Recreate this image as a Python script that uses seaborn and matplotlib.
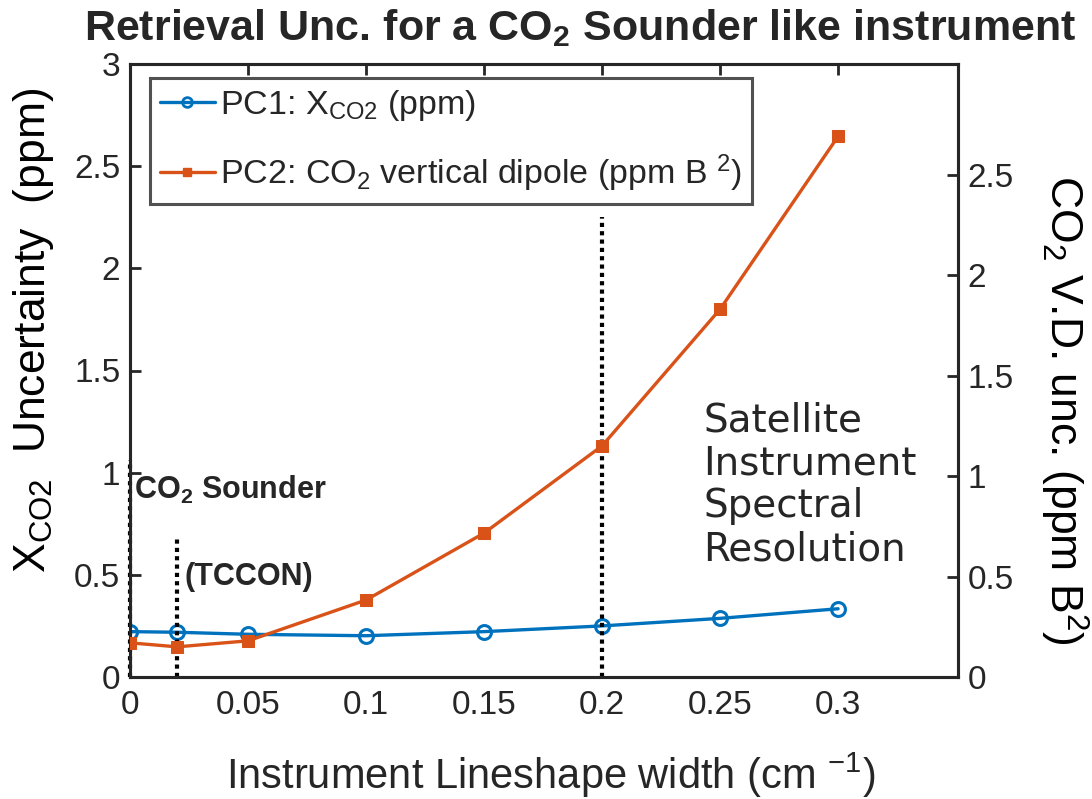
import numpy as np
import pandas as pd
import matplotlib
matplotlib.use("Agg")
import matplotlib.pyplot as plt
from matplotlib.ticker import FuncFormatter, FixedLocator
from matplotlib.lines import Line2D
import seaborn as sns

# ---- data ----
width = [0.0, 0.02, 0.05, 0.1, 0.15, 0.2, 0.25, 0.3]
pc1_xco2 = [0.222, 0.219, 0.209, 0.202, 0.222, 0.25, 0.287, 0.334]
pc2_dipole = [0.17, 0.15, 0.18, 0.383, 0.716, 1.15, 1.83, 2.69]
x_ticks = [0, 0.05, 0.1, 0.15, 0.2, 0.25, 0.3]
left_ticks = [0, 0.5, 1, 1.5, 2, 2.5, 3]
right_ticks = [0, 0.5, 1, 1.5, 2, 2.5]
marker_lines = [0.0, 0.02, 0.2]
marker_tops = [1.06, 0.685, 2.25]

df = pd.DataFrame({"w": width, "pc1": pc1_xco2, "pc2": pc2_dipole})

sns.set_theme(style="white")
plt.rcParams["font.family"] = ["Liberation Sans", "DejaVu Sans"]
plt.rcParams["mathtext.fontset"] = "custom"
plt.rcParams["mathtext.rm"] = "Liberation Sans"
plt.rcParams["mathtext.it"] = "Liberation Sans"
plt.rcParams["mathtext.bf"] = "Liberation Sans:bold"

BLUE = "#0072BD"
ORANGE = "#D95319"
AXC = "#262626"

fig = plt.figure(figsize=(10.92, 7.99), dpi=100)
ax = fig.add_axes([130/1092, 1-677/799, (958-130)/1092, (677-64)/799])
ax2 = ax.twinx()

sns.lineplot(data=df, x="w", y="pc1", ax=ax, color=BLUE, lw=2.4, marker="o",
             markersize=10, markerfacecolor="none", markeredgecolor=BLUE,
             markeredgewidth=2.2, legend=False, zorder=5)
sns.lineplot(data=df, x="w", y="pc2", ax=ax2, color=ORANGE, lw=2.4, marker="s",
             markersize=8, markerfacecolor=ORANGE, markeredgecolor=ORANGE,
             legend=False, zorder=5)

for xv, top in zip(marker_lines, marker_tops):
    ax.vlines(xv, 0, top, colors="black", linestyles=(0, (1, 1)), lw=3,
              zorder=6, clip_on=False)

ax.set_xlim(0, 0.3508)
ax.set_ylim(0, 3)
ax2.set_ylim(0, 3.05)

fmt = FuncFormatter(lambda v, p: ("%g" % v))
ax.xaxis.set_major_locator(FixedLocator(x_ticks))
ax.yaxis.set_major_locator(FixedLocator(left_ticks))
ax2.yaxis.set_major_locator(FixedLocator(right_ticks))
ax.xaxis.set_major_formatter(fmt)
ax.yaxis.set_major_formatter(fmt)
ax2.yaxis.set_major_formatter(fmt)

for a in (ax, ax2):
    for s in a.spines.values():
        s.set_color(AXC)
        s.set_linewidth(2.2)
    a.tick_params(direction="in", length=8, width=2, colors=AXC, labelsize=24,
                  labelcolor=AXC)
ax.tick_params(axis="x", top=True, pad=9)
ax.tick_params(axis="y", left=True, right=False, pad=7)
ax2.tick_params(axis="y", right=True, left=False, pad=7)
ax.set_xlabel("")
ax.set_ylabel("")
ax2.set_ylabel("")

# axis labels
fig.text(551/1092, 1-775/799, r"Instrument Lineshape width (cm $^{-1}$)",
         ha="center", va="center", fontsize=30, color=AXC)
ax.text(-0.117, 0.565, r"X$_{\mathregular{CO2}}$  Uncertainty  (ppm)",
        rotation=90, ha="center", va="center", transform=ax.transAxes,
        fontsize=32, color="black")
ax2.text(1.128, 0.435, r"CO$_2$ V.D. unc. (ppm B$^2$)", rotation=270,
         ha="center", va="center", transform=ax2.transAxes, fontsize=32,
         color="black")

# annotations
ax.text(0.0015, 0.915, r"CO$_\mathbf{2}$ Sounder", fontsize=22, fontweight="bold",
        ha="left", va="center", zorder=7)
ax.text(0.0232, 0.49, "(TCCON)", fontsize=22, fontweight="bold",
        ha="left", va="center", zorder=7)
ax.text(0.2428, 0.94, "Satellite\nInstrument\nSpectral\nResolution",
        family="DejaVu Sans", fontsize=28, ha="left", va="center",
        linespacing=1.17, zorder=7)

# title
fig.text(580/1092, 1-28/799,
         r"Retrieval Unc. for a CO$_\mathbf{2}$ Sounder like instrument",
         fontsize=31, fontweight="bold", ha="center", va="center")

# legend
handles = [
    Line2D([], [], color=BLUE, lw=2.4, marker="o", markersize=7,
           markerfacecolor="none", markeredgewidth=2),
    Line2D([], [], color=ORANGE, lw=2.4, marker="s", markersize=6,
           markerfacecolor=ORANGE),
]
labels = [r"PC1: X$_{\mathregular{CO2}}$ (ppm)",
          r"PC2: CO$_2$ vertical dipole (ppm B $^2$)"]
leg = ax2.legend(handles, labels, loc="upper left",
                 bbox_to_anchor=(0.024, 0.977), borderaxespad=0, fontsize=24.5,
                 frameon=True, fancybox=False, handlelength=1.6,
                 handletextpad=0.15, borderpad=0.3, labelspacing=0.85)
leg.get_frame().set_edgecolor(AXC)
leg.get_frame().set_linewidth(2.2)
leg.set_zorder(10)

fig.savefig("out.png", dpi=100)
